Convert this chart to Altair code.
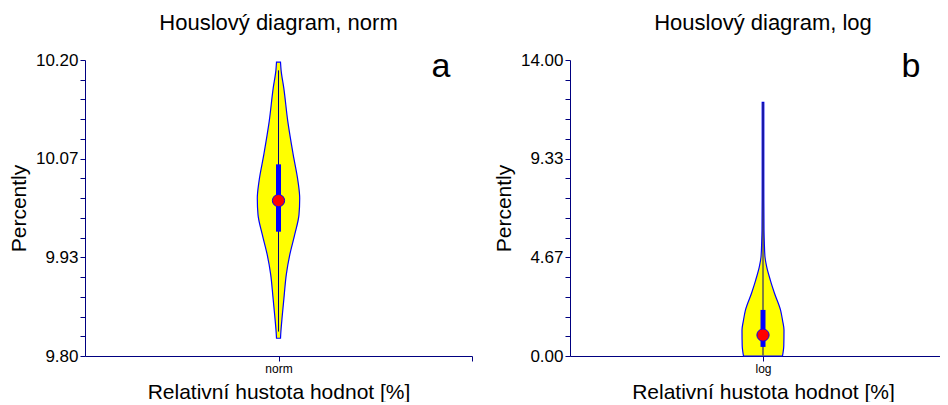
import altair as alt
import pandas as pd

FONT = "Liberation Sans"
NAVY = "#000080"
BLUE = "#0000FF"
YELLOW = "#FFFF00"
RED = "#FF0000"

# ---- data ----
categories = ["norm", "log"]
panel_titles = ["Houslový diagram, norm", "Houslový diagram, log"]
panel_letters = ["a", "b"]

# violin profile: value -> half width (relative density)
norm_values = [9.824, 9.829, 9.855, 9.882, 9.910, 9.937, 9.964, 9.991, 10.013,
               10.036, 10.072, 10.117, 10.162, 10.186, 10.197]
norm_halfwidth = [2.0, 2.2, 3.8, 5.7, 7.8, 11.3, 16.2, 20.5, 21.2,
                  19.5, 14.7, 9.3, 5.3, 2.6, 2.0]

log_values = [0.0, 0.5, 1.23, 1.70, 2.18, 2.98, 3.59, 4.21, 4.68, 5.4, 5.96, 8.3, 12.0]
log_halfwidth = [19.5, 20.8, 21.0, 19.5, 17.5, 11.4, 7.3, 3.7, 2.0, 1.3, 1.0, 0.8, 0.8]

# box statistics: whisker low, Q1, median, Q3, whisker high
norm_stats = [9.833, 9.968, 10.010, 10.059, 10.186]
log_stats = [0.03, 0.43, 0.99, 2.18, 12.0]

# y-axis domains and tick positions (16 ticks, every 5th labelled)
norm_domain = [9.80, 10.20]
log_domain = [0.0, 14.0]
norm_ticks = [round(9.80 + i * 0.4 / 15, 6) for i in range(16)]
log_ticks = [round(0.0 + i * 14.0 / 15, 6) for i in range(16)]


def panel(name, values, halfwidth, stats, ydomain, yticks, xdomain, xticks,
          width, title, letter, title_dx, title_x, letter_x):
    vdf = pd.DataFrame({"v": values,
                        "lo": [-h for h in halfwidth],
                        "hi": halfwidth})
    sdf = pd.DataFrame({"c": [0.0], "wlo": [stats[0]], "q1": [stats[1]],
                        "med": [stats[2]], "q3": [stats[3]], "whi": [stats[4]]})
    yscale = alt.Scale(domain=ydomain, nice=False, zero=False)
    xscale = alt.Scale(domain=xdomain, nice=False, zero=False)
    step = (ydomain[1] - ydomain[0]) / 15
    yaxis = alt.Axis(
        values=yticks,
        labelExpr=f"round((datum.value - {ydomain[0]}) / {step}) % 5 == 0 ? format(datum.value, '.2f') : ''",
        title="Percently", labelPadding=2, titlePadding=6, labelFontSize=17,
        labelOverlap=False, labelBound=False, titleFontSize=21,
    )
    xaxis = alt.Axis(
        values=xticks,
        labelExpr=f"datum.value == 0 ? '{name}' : ''",
        title="Relativní hustota hodnot [%]", labelFontSize=12, labelPadding=2,
        titlePadding=7, titleX=title_x, labelFlush=False, labelOverlap=False,
        titleFontSize=21,
    )
    area = alt.Chart(vdf).mark_area(
        orient="horizontal", interpolate="monotone", fill=YELLOW,
        stroke=BLUE, strokeWidth=1.2, fillOpacity=1,
    ).encode(
        y=alt.Y("v:Q", scale=yscale, axis=yaxis),
        x=alt.X("lo:Q", scale=xscale, axis=xaxis),
        x2="hi:Q",
    )
    whisker = alt.Chart(sdf).mark_rule(color=NAVY, strokeWidth=1).encode(
        x=alt.X("c:Q", scale=xscale, axis=xaxis),
        y=alt.Y("wlo:Q", scale=yscale, axis=yaxis), y2="whi:Q"
    )
    box = alt.Chart(sdf).mark_rule(color=BLUE, strokeWidth=5).encode(
        x=alt.X("c:Q", scale=xscale, axis=xaxis),
        y=alt.Y("q1:Q", scale=yscale, axis=yaxis), y2="q3:Q"
    )
    med = alt.Chart(sdf).mark_point(
        shape="circle", filled=True, fill=RED, stroke=BLUE, strokeWidth=1,
        size=150, opacity=1,
    ).encode(x=alt.X("c:Q", scale=xscale, axis=xaxis),
             y=alt.Y("med:Q", scale=yscale, axis=yaxis))
    txt = alt.Chart(sdf).mark_text(
        text=letter, font=FONT, fontSize=34, align="center", baseline="alphabetic",
        color="black",
    ).encode(x=alt.value(letter_x), y=alt.value(17))
    return alt.layer(area, whisker, box, med, txt).properties(
        width=width, height=296,
        title=alt.TitleParams(title, font=FONT, fontSize=22, fontWeight="normal",
                              offset=15, dx=title_dx, color="black"),
    )


left = panel(categories[0], norm_values, norm_halfwidth, norm_stats, norm_domain,
             norm_ticks, [-193.5, 193.5], [0, 193.5], 387, panel_titles[0],
             panel_letters[0], 0, 193.5, 356)
right = panel(categories[1], log_values, log_halfwidth, log_stats, log_domain,
              log_ticks, [-193, 177], [0], 370, panel_titles[1],
              panel_letters[1], 8, 193, 341)

chart = alt.hconcat(left, right, spacing=98, bounds="flush").properties(
    padding={"top": 4, "left": 0, "right": 0, "bottom": 0}
).configure_view(
    stroke=None
).configure_axis(
    domainColor=NAVY, tickColor=NAVY, tickSize=5, labelColor="black",
    titleColor="black", labelFont=FONT, titleFont=FONT, grid=False,
    titleFontWeight="normal", domainWidth=1, tickWidth=1, labelOverlap=False,
)

chart.save("out.html", embed_options={"renderer": "svg", "actions": False})
